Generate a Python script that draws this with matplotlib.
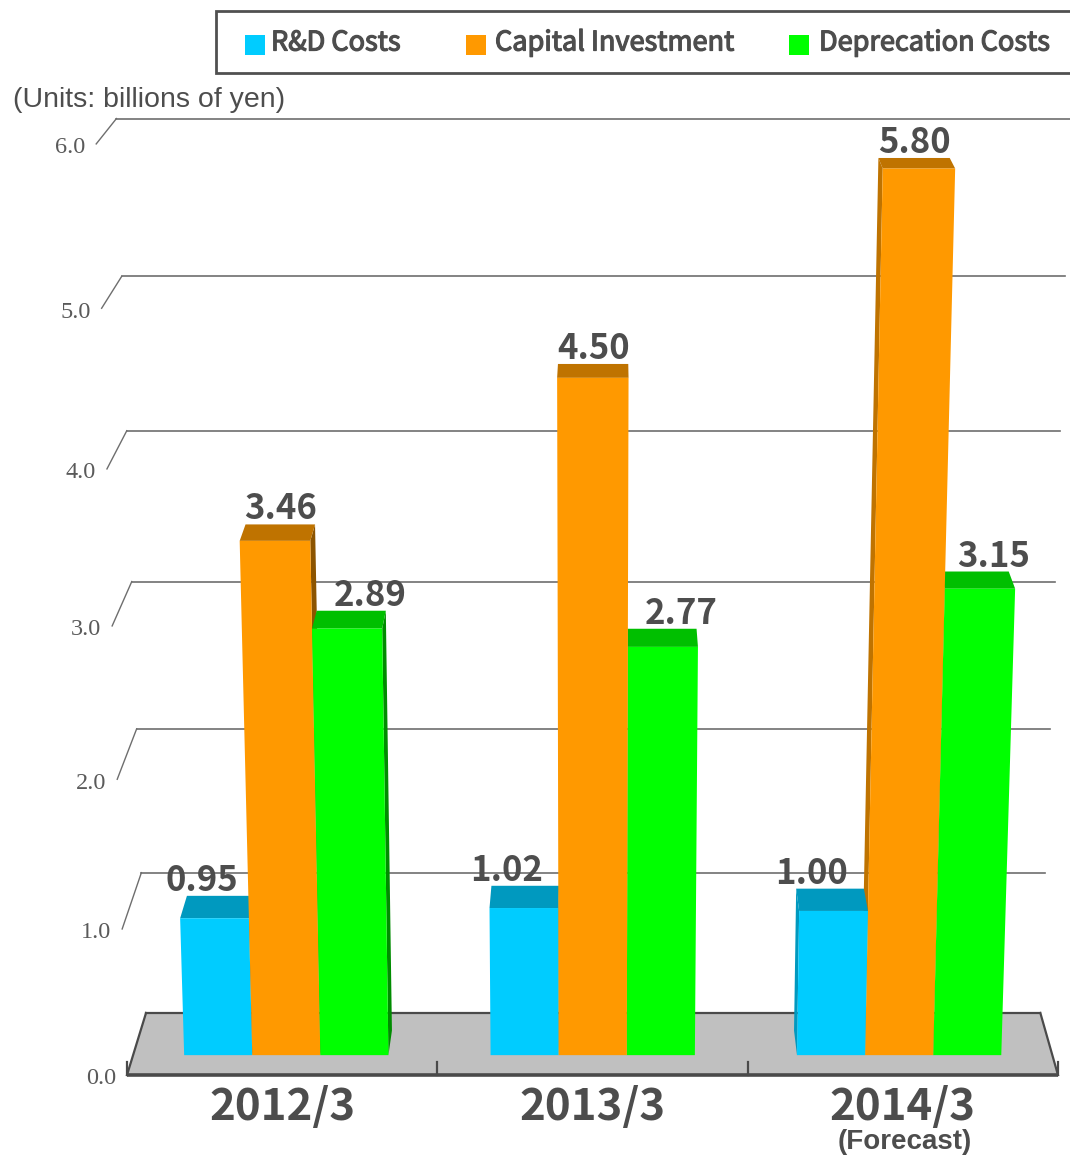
import matplotlib
matplotlib.use("Agg")
import matplotlib.pyplot as plt
import matplotlib.patheffects as pe
from matplotlib.patches import Polygon, Rectangle
from matplotlib.colors import to_rgb

# ---------------------------------------------------------------- data
periods = ["2012/3", "2013/3", "2014/3"]
period_notes = ["", "", "(Forecast)"]
series_names = ["R&D Costs", "Capital Investment", "Deprecation Costs"]
rd_costs = [0.95, 1.02, 1.00]
capital_investment = [3.46, 4.50, 5.80]
depreciation_costs = [2.89, 2.77, 3.15]
y_ticks = [0.0, 1.0, 2.0, 3.0, 4.0, 5.0, 6.0]
y_tick_labels = ["0.0", "1.0", "2.0", "3.0", "4.0", "5.0", "6.0"]
unit_note = "(Units: billions of yen)"

series_values = [rd_costs, capital_investment, depreciation_costs]
series_colors = ["#00CCFF", "#FF9900", "#00FF00"]
label_shift = [-0.28, 0.0, 0.28]          # value-label offset, in bar widths

TEXT = "#4D4D4D"
CJK = ["Noto Sans CJK JP", "DejaVu Sans"]

# ---------------------------------------------------------------- perspective
W, H = 1070, 1155
FLOOR_Y = 1075.0            # front edge of the floor
PLOT_LEFT, CAT_W = 127.0, 310.33
A1, A2 = 144.2, 1.83        # vertical scale of the front plane (with slight foreshortening)
CX, DIST = 590.0, 14000.0   # vertical edges converge far below the plot
VPX, VPY = 610.0, -500.0    # depth vanishing point
DEPTH = 0.0394              # floor depth as a fraction toward the vanishing point
BAR_Z0, BAR_Z1 = 0.32, 0.716
BAR_W = 2.0 / 9.0           # in category units


def cat_x(c):
    return PLOT_LEFT + CAT_W * c


def project(c, v, z):
    """category position, value, depth (0 front .. 1 back) -> canvas point"""
    xw = cat_x(c)
    y0 = FLOOR_Y - A1 * v - A2 * v * v
    s = (FLOOR_Y + DIST - y0) / DIST
    x0 = CX + (xw - CX) * s
    g = DEPTH * z
    return (x0 + (VPX - x0) * g, y0 + (VPY - y0) * g)


def shade(color, f):
    r, g, b = to_rgb(color)
    return (r * f, g * f, b * f)


fig = plt.figure(figsize=(W / 100, H / 100), dpi=100)
ax = fig.add_axes([0, 0, 1, 1])
ax.set_xlim(0, W)
ax.set_ylim(H, 0)
ax.axis("off")

n_cat = len(periods)
GRID = "#6E6E6E"
AXIS = "#4A4A4A"

# ---------------------------------------------------------------- floor
floor = [project(0, 0, 0), project(n_cat, 0, 0), project(n_cat, 0, 1), project(0, 0, 1)]
ax.add_patch(Polygon(floor, closed=True, facecolor="#C0C0C0", edgecolor="none", zorder=1))
ax.plot([floor[3][0], floor[2][0]], [floor[3][1], floor[2][1]], color=AXIS, lw=1.6, zorder=2)
ax.plot([floor[0][0], floor[3][0]], [floor[0][1], floor[3][1]], color=AXIS, lw=1.6, zorder=2)
ax.plot([floor[1][0], floor[2][0]], [floor[1][1], floor[2][1]], color=AXIS, lw=1.6, zorder=2)
ax.plot([floor[0][0], floor[1][0]], [floor[0][1], floor[1][1]], color=AXIS, lw=2.6,
        solid_capstyle="butt", zorder=2)
for c in range(n_cat + 1):
    px, py = project(c, 0, 0)
    ax.plot([px, px], [py, py - 13], color=AXIS, lw=1.6, zorder=2)

# ---------------------------------------------------------------- grid on the back wall
for t, lab in zip(y_ticks, y_tick_labels):
    fx, fy = project(0, t, 0)
    bx, by = project(0, t, 1)
    rx, ry = project(n_cat, t, 1)
    if t > 0:
        ax.plot([fx, bx], [fy, by], color=GRID, lw=1.0, zorder=1.5)
        ax.plot([bx, rx], [by, ry], color=GRID, lw=1.2, zorder=1.5)
    ax.text(fx - 11, fy + 4, lab, ha="right", va="center", fontsize=17.5,
            family="Liberation Serif", color="#5A5A5A")

# ---------------------------------------------------------------- bars
bars = []
for i in range(n_cat):
    for j, vals in enumerate(series_values):
        left = i + 0.5 - 1.5 * BAR_W + j * BAR_W
        bars.append((left, left + BAR_W, vals[i], series_colors[j], j))

# paint bars farthest from the vanishing line first
bars.sort(key=lambda b: -abs(cat_x((b[0] + b[1]) / 2) - VPX))

for left, right, val, col, j in bars:
    fl0, fr0 = project(left, 0, BAR_Z0), project(right, 0, BAR_Z0)
    fl1, fr1 = project(left, val, BAR_Z0), project(right, val, BAR_Z0)
    bl1, br1 = project(left, val, BAR_Z1), project(right, val, BAR_Z1)
    bl0, br0 = project(left, 0, BAR_Z1), project(right, 0, BAR_Z1)
    if cat_x(right) < VPX:
        ax.add_patch(Polygon([fr0, br0, br1, fr1], closed=True,
                             facecolor=shade(col, 0.55), edgecolor="none", zorder=3))
    if cat_x(left) > VPX:
        ax.add_patch(Polygon([fl0, bl0, bl1, fl1], closed=True,
                             facecolor=shade(col, 0.75), edgecolor="none", zorder=3))
    ax.add_patch(Polygon([fl1, fr1, br1, bl1], closed=True,
                         facecolor=shade(col, 0.75), edgecolor="none", zorder=3))
    ax.add_patch(Polygon([fl0, fr0, fr1, fl1], closed=True,
                         facecolor=col, edgecolor="none", zorder=3))

# ---------------------------------------------------------------- value labels
for i in range(n_cat):
    for j, vals in enumerate(series_values):
        left = i + 0.5 - 1.5 * BAR_W + j * BAR_W
        mid = left + BAR_W * (0.5 + label_shift[j])
        lx, ly = project(mid, vals[i], BAR_Z1)
        ax.text(lx, ly - 5, f"{vals[i]:.2f}", ha="center", va="baseline",
                fontsize=25, fontweight="bold", family=CJK, color=TEXT, zorder=5)

# ---------------------------------------------------------------- category labels
for i, (p, note) in enumerate(zip(periods, period_notes)):
    px, py = project(i + 0.5, 0, 0)
    ax.text(px, py + 45, p, ha="center", va="baseline", fontsize=31.5,
            fontweight="bold", family=CJK, color=TEXT)
    if note:
        ax.text(px + 2, py + 74, note, ha="center", va="baseline", fontsize=20,
                fontweight="bold", family="Liberation Sans", color=TEXT)

# ---------------------------------------------------------------- unit note
ax.text(13, 100, unit_note, ha="left", va="center", fontsize=20.5,
        family="Liberation Sans", color=TEXT)

# ---------------------------------------------------------------- legend
ax.add_patch(Rectangle((216, 11), 900, 62, facecolor="white", edgecolor="#505050",
                       lw=2.0, zorder=6, clip_on=False))
legend_sq_x = [245, 465.5, 789]
legend_tx_x = [271, 495, 819]
for name, col, sx, tx in zip(series_names, series_colors, legend_sq_x, legend_tx_x):
    ax.add_patch(Rectangle((sx, 34.5), 20, 20, facecolor=col, edgecolor="none", zorder=7))
    ax.text(tx, 43, name, ha="left", va="center", fontsize=19.5, family=CJK,
            color=TEXT, zorder=7,
            path_effects=[pe.withStroke(linewidth=0.9, foreground=TEXT)])

fig.savefig("out.png", dpi=100)
